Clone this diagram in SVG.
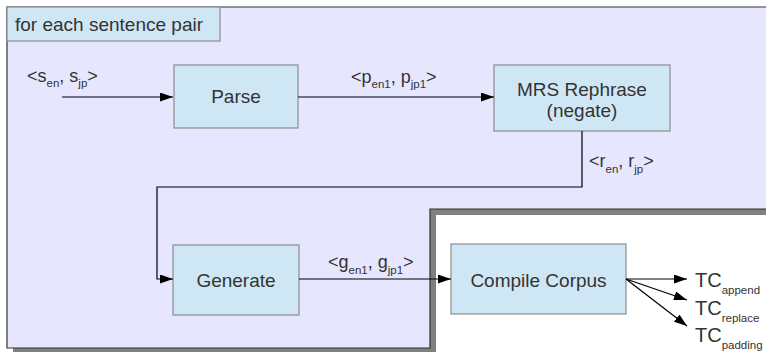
<svg xmlns="http://www.w3.org/2000/svg" width="766" height="352" viewBox="0 0 766 352">
<style>
text{font-family:"Liberation Sans",Arial,sans-serif;fill:#333333}
.node{fill:#cfe7f5;stroke:#8c8c8c;stroke-width:1.2}
.lbl{font-size:19px;text-anchor:middle}
.el{font-size:18px}
.sub{font-size:11.5px}
.conn{fill:none;stroke:#000;stroke-width:1.2}
</style>
<defs>
<marker id="arr" markerUnits="userSpaceOnUse" markerWidth="14" markerHeight="9" refX="13" refY="4.5" orient="auto">
<path d="M0,0 L13,4.5 L0,9 Z" fill="#000"/>
</marker>
</defs>
<rect width="766" height="352" fill="#ffffff"/>
<g id="frame">
<path d="M13,13 H790 V215 H436 V356 H13 Z" fill="#808080"/>
<path d="M7,7 H780 V209 H430 V348 H7 Z" fill="#e6e6ff" stroke="#333333" stroke-width="1.2"/>
</g>
<g id="loop-label">
<rect x="7" y="7" width="213" height="34" fill="#cfe7f5" stroke="#8c8c8c" stroke-width="1.2"/>
<text x="15" y="31" font-size="19">for each sentence pair</text>
</g>
<g id="parse">
<rect class="node" x="174" y="65" width="124" height="63"/>
<text class="lbl" x="236" y="103">Parse</text>
</g>
<g id="mrs">
<rect class="node" x="494" y="65" width="176" height="66"/>
<text class="lbl" x="582" y="96">MRS Rephrase</text>
<text class="lbl" x="582" y="117">(negate)</text>
</g>
<g id="generate">
<rect class="node" x="173" y="245" width="126" height="70"/>
<text class="lbl" x="236" y="287">Generate</text>
</g>
<g id="compile">
<rect class="node" x="451" y="244" width="175" height="70"/>
<text class="lbl" x="538.5" y="287">Compile Corpus</text>
</g>
<g id="outputs">
<text x="695" y="287" font-size="20">TC<tspan class="sub" dy="7">append</tspan></text>
<text x="695" y="315" font-size="20">TC<tspan class="sub" dy="7">replace</tspan></text>
<text x="695" y="342" font-size="20">TC<tspan class="sub" dy="7">padding</tspan></text>
</g>
<g id="connectors">
<path class="conn" d="M62,97 H173" marker-end="url(#arr)"/>
<path class="conn" d="M298,97 H494" marker-end="url(#arr)"/>
<path class="conn" d="M582,131 V187 H157 V279 H173" marker-end="url(#arr)"/>
<path class="conn" d="M299,279 H451" marker-end="url(#arr)"/>
<path class="conn" d="M626,279 L687,279" marker-end="url(#arr)"/>
<path class="conn" d="M626,279 L687,300" marker-end="url(#arr)"/>
<path class="conn" d="M626,279 L687,326" marker-end="url(#arr)"/>
<text class="el" x="27" y="82">&lt;s<tspan class="sub" dy="5">en</tspan><tspan dy="-5">, s</tspan><tspan class="sub" dy="5">jp</tspan><tspan dy="-5">&gt;</tspan></text>
<text class="el" x="351" y="83">&lt;p<tspan class="sub" dy="5">en1</tspan><tspan dy="-5">, p</tspan><tspan class="sub" dy="5">jp1</tspan><tspan dy="-5">&gt;</tspan></text>
<text class="el" x="589" y="167">&lt;r<tspan class="sub" dy="6">en</tspan><tspan dy="-6">, r</tspan><tspan class="sub" dy="6">jp</tspan><tspan dy="-6">&gt;</tspan></text>
<text class="el" x="328" y="268">&lt;g<tspan class="sub" dy="6">en1</tspan><tspan dy="-6">, g</tspan><tspan class="sub" dy="6">jp1</tspan><tspan dy="-6">&gt;</tspan></text>
</g>
</svg>
